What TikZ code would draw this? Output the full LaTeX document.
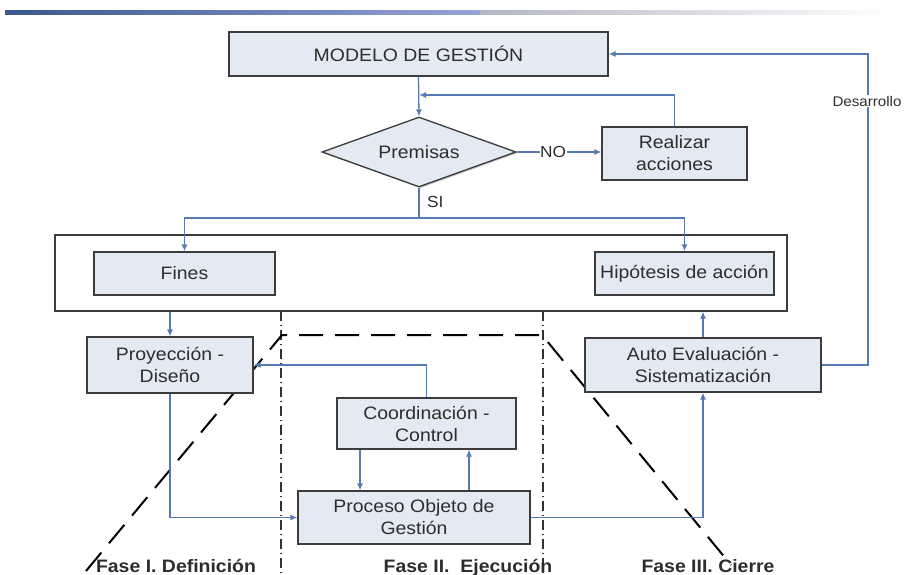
\documentclass[tikz,border=0pt]{standalone}
\usepackage{fontspec}
\setmainfont[FakeStretch=1.08]{Liberation Sans}
\usetikzlibrary{arrows.meta,shapes.geometric,shadows}
\definecolor{boxfill}{RGB}{228,234,244}
\definecolor{boxline}{RGB}{60,60,60}
\definecolor{connc}{RGB}{88,122,178}
\definecolor{txtc}{RGB}{45,45,45}
\definecolor{navy}{RGB}{58,88,140}
\definecolor{lavender}{RGB}{152,162,215}
\definecolor{greyfade}{RGB}{180,182,195}
\tikzset{
  boxnode/.style={draw=boxline, line width=1.3pt, fill=boxfill, text=txtc, align=center,
    inner sep=0pt, font=\fontsize{18}{22}\selectfont,
    drop shadow={shadow xshift=1.3pt, shadow yshift=-1.3pt, opacity=0.45, fill=gray}},
  conn/.style={draw=connc, line width=1.3pt, -{Latex[length=7pt,width=6pt]}},
  plainconn/.style={draw=connc, line width=1.3pt},
  lbl/.style={text=txtc, inner sep=1pt, font=\fontsize{16}{18}\selectfont},
  faselbl/.style={text=txtc, inner sep=0pt, anchor=base, font=\fontsize{18}{20}\selectfont\bfseries},
  phaseline/.style={draw=black, line width=2pt, dash pattern=on 24pt off 12pt},
  dashdotline/.style={draw=black!80, line width=1.4pt, dash pattern=on 10pt off 4pt on 1pt off 4pt}
}
\begin{document}
\begin{tikzpicture}[x=1pt,y=-1pt]
\useasboundingbox (0,0) rectangle (904,575);
\fill[white] (0,0) rectangle (904,575);
% top decorative line
\shade[left color=navy, right color=lavender] (5,11) rectangle (480,15);
\shade[left color=greyfade, right color=white] (480,11) rectangle (895,15);

% phase separators
\draw[dashdotline] (281,311) -- (281,575);
\draw[dashdotline] (543,311) -- (543,575);
\draw[phaseline] (86,571) -- (282,335) -- (542,335) -- (731,565);

% nodes
\node[boxnode, minimum width=379pt, minimum height=44pt] (modelo) at (418.5,54) {MODELO DE GESTIÓN};
\node[boxnode, diamond, aspect=2.77, minimum width=194pt, minimum height=70pt, drop shadow={opacity=0}] (prem) at (419,152) {Premisas};
\node[boxnode, minimum width=145pt, minimum height=53pt] (real) at (674.5,153.5) {Realizar\\acciones};
\node[draw=boxline, line width=1.3pt, fill=white, minimum width=732pt, minimum height=76pt, inner sep=0pt] (big) at (421,273) {};
\node[boxnode, minimum width=181pt, minimum height=43pt] (fines) at (184.5,273.5) {Fines};
\node[boxnode, minimum width=179pt, minimum height=43pt] (hip) at (684.5,273.5) {Hipótesis de acción};
\node[boxnode, minimum width=166pt, minimum height=56pt] (proy) at (170,365) {Proyección -\\Diseño};
\node[boxnode, minimum width=236pt, minimum height=54pt] (auto) at (703,365) {Auto Evaluación -\\Sistematización};
\node[boxnode, minimum width=179pt, minimum height=51pt] (coord) at (426.5,423.5) {Coordinación -\\Control};
\node[boxnode, minimum width=232pt, minimum height=53pt] (proc) at (414,517.5) {Proceso Objeto de\\Gestión};

% connectors
\coordinate (j1) at (419,95);
\coordinate (jsi) at (419,218);
\coordinate (dturn) at (868,101);
\draw[conn] (modelo.south) -- (prem.north);
\draw[conn] (real.north) |- (j1);
\draw[plainconn] (prem.east) -- (540,152);
\draw[conn] (567,152) -- (prem.east -| real.west);
\node[lbl] (no) at (553,152) {NO};
\draw[plainconn] (prem.south) -- (jsi);
\draw[conn] (jsi) -| (fines.north);
\draw[conn] (jsi) -| (hip.north);
\node[lbl, anchor=west] (si) at (426,202) {SI};
\draw[conn] (big.south -| proy.north) -- (proy.north);
\draw[conn] (auto.north) -- (auto.north |- big.south);
\draw[conn] (coord.north) |- (proy.east);
\draw[conn] (proy.south) |- (proc.west);
\draw[conn] (proc.east) -| (auto.south);
\draw[conn] ([xshift=-66.5pt]coord.south) -- ([xshift=-66.5pt]coord.south |- proc.north);
\draw[conn] ([xshift=55pt]proc.north) -- ([xshift=55pt]proc.north |- coord.south);
\draw[conn] (auto.east) -| (dturn) |- (modelo.east);
\node[fill=white, text=txtc, inner sep=1pt, font=\fontsize{14}{16}\selectfont] (des) at (867,101) {Desarrollo};

% phase labels
\node[faselbl] (f1) at (176,572) {Fase I. Definición};
\node[faselbl] (f2) at (468,572) {Fase II.~~Ejecución};
\node[faselbl] (f3) at (708,572) {Fase III. Cierre};
\end{tikzpicture}
\end{document}
